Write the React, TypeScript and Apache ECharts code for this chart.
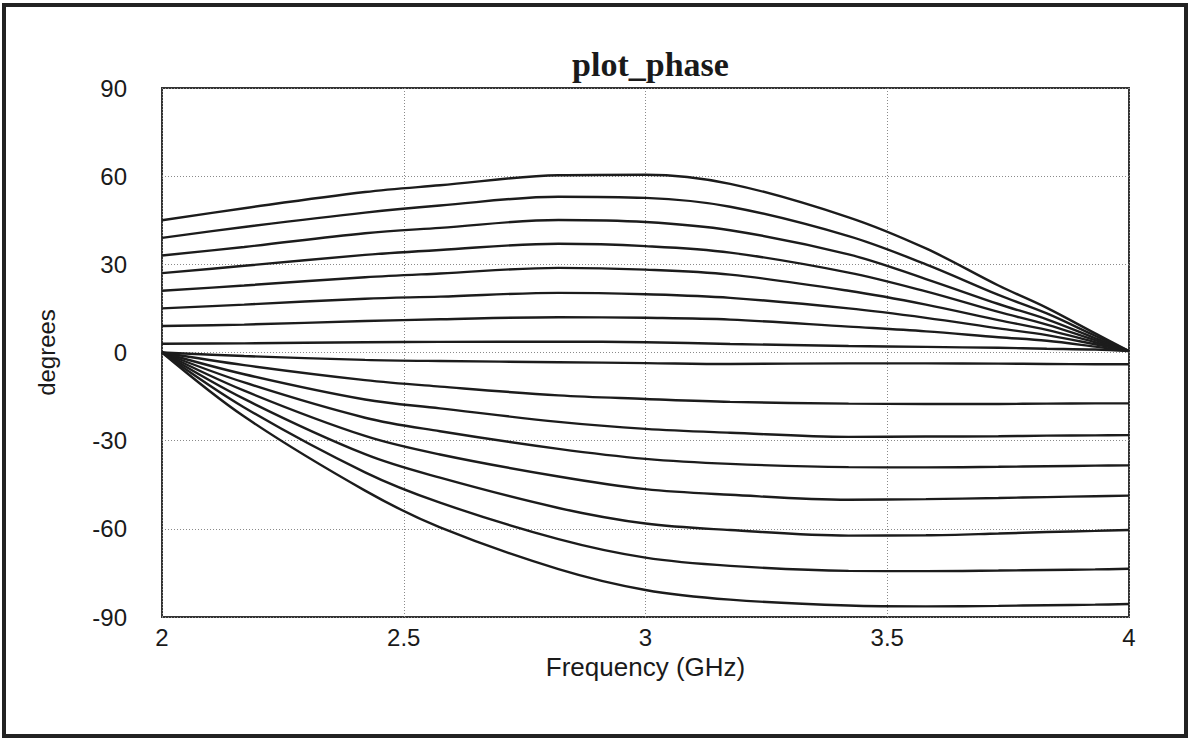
import React, { useEffect, useRef } from "react";
import * as echarts from "echarts";

// Frequency sample points (GHz)
const freq = [2.0, 2.17, 2.42, 2.575, 2.82, 3.0, 3.175, 3.42, 3.58, 3.73, 3.83, 3.93, 4.0];

// Upper family (degrees)
const upper1 = [45, 49.1, 54.6, 56.9, 60.3, 60.5, 57.4, 46.0, 35.4, 22.8, 15.2, 6.5, 0.5];
const upper2 = [39, 42.7, 47.6, 50.0, 53.0, 52.6, 49.6, 39.6, 30.0, 19.6, 13.3, 5.7, 0.5];
const upper3 = [33, 35.9, 40.6, 42.4, 45.1, 44.4, 41.6, 33.4, 25.0, 16.5, 11.3, 4.9, 0.5];
const upper4 = [27, 29.5, 33.2, 34.9, 37.0, 36.2, 34.0, 27.2, 20.8, 13.8, 9.5, 4.2, 0.5];
const upper5 = [21, 22.8, 25.6, 26.9, 28.8, 28.2, 26.5, 21.0, 16.3, 11.0, 7.7, 3.5, 0.5];
const upper6 = [15, 16.3, 18.3, 19.0, 20.3, 19.8, 18.6, 15.0, 11.8, 8.2, 5.9, 2.8, 0.5];
const upper7 = [9, 9.5, 10.7, 11.3, 12.0, 11.8, 11.2, 8.8, 7.2, 5.2, 4.0, 2.0, 0.5];
const upper8 = [3, 3.1, 3.5, 3.6, 3.7, 3.5, 2.9, 2.2, 1.9, 1.6, 1.3, 1.0, 0.5];

// Lower family (degrees)
const lower1 = [0, -1.2, -2.5, -2.9, -3.3, -3.6, -3.9, -3.7, -3.7, -3.8, -3.9, -4.0, -4.0];
const lower2 = [0, -4.3, -9.4, -11.6, -14.6, -15.8, -16.8, -17.4, -17.5, -17.5, -17.4, -17.3, -17.3];
const lower3 = [0, -7.4, -16.0, -19.0, -23.6, -26.0, -27.3, -28.7, -28.6, -28.5, -28.3, -28.2, -28.1];
const lower4 = [0, -10.2, -22.2, -26.8, -32.8, -36.2, -37.9, -39.0, -39.1, -38.9, -38.7, -38.5, -38.4];
const lower5 = [0, -13.0, -28.4, -34.7, -42.2, -46.5, -48.4, -50.1, -49.9, -49.5, -49.2, -48.9, -48.7];
const lower6 = [0, -15.8, -34.6, -42.6, -52.9, -58.2, -60.4, -62.3, -62.2, -61.6, -61.1, -60.7, -60.4];
const lower7 = [0, -18.7, -40.8, -51.1, -63.5, -69.8, -72.6, -74.3, -74.4, -74.2, -74.0, -73.8, -73.6];
const lower8 = [0, -21.8, -47.0, -59.5, -73.7, -80.8, -84.1, -86.1, -86.4, -86.2, -86.0, -85.8, -85.6];

const curves = [
  upper1, upper2, upper3, upper4, upper5, upper6, upper7, upper8,
  lower1, lower2, lower3, lower4, lower5, lower6, lower7, lower8,
];

const yTicks = [-90, -60, -30, 0, 30, 60, 90];

export default function App() {
  const ref = useRef<HTMLDivElement>(null);

  useEffect(() => {
    document.body.style.margin = "0";
    const chart = echarts.init(ref.current as HTMLDivElement, null, { renderer: "svg" });
    const textColor = "#1a1a1a";
    chart.setOption({
      animation: false,
      backgroundColor: "#ffffff",
      title: {
        text: "plot_phase",
        left: 645.5,
        textAlign: "center",
        top: 42,
        textStyle: {
          fontFamily: "Liberation Serif",
          fontWeight: "bold",
          fontSize: 34,
          color: textColor,
        },
      },
      graphic: [
        {
          type: "rect",
          shape: { x: 4, y: 5, width: 1182, height: 731 },
          style: { fill: "none", stroke: "#222", lineWidth: 4 },
          silent: true,
        },
      ],
      grid: {
        left: 162,
        right: 61,
        top: 88,
        bottom: 123,
        show: true,
        borderColor: "#333",
        borderWidth: 2,
        backgroundColor: "transparent",
      },
      xAxis: {
        type: "value",
        min: 2,
        max: 4,
        interval: 0.5,
        name: "Frequency (GHz)",
        nameLocation: "middle",
        nameGap: 37,
        nameTextStyle: { fontFamily: "Liberation Sans", fontSize: 26, color: textColor },
        axisLine: { show: false },
        axisTick: { show: false },
        axisLabel: { fontFamily: "Liberation Sans", fontSize: 24, color: textColor, margin: 8 },
        splitLine: { show: true, lineStyle: { type: [1, 2], color: "#8a8a8a", width: 1 } },
      },
      yAxis: {
        type: "value",
        min: yTicks[0],
        max: yTicks[yTicks.length - 1],
        interval: 30,
        name: "degrees",
        nameLocation: "middle",
        nameGap: 104,
        nameTextStyle: { fontFamily: "Liberation Sans", fontSize: 24, color: textColor },
        axisLine: { show: false },
        axisTick: { show: false },
        axisLabel: { fontFamily: "Liberation Sans", fontSize: 24, color: textColor, margin: 35 },
        splitLine: { show: true, lineStyle: { type: [1, 2], color: "#8a8a8a", width: 1 } },
      },
      series: curves.map((vals, i) => ({
        name: (i < 8 ? "upper" : "lower") + ((i % 8) + 1),
        type: "line",
        data: freq.map((f, j) => [f, vals[j]]),
        smooth: 0.35,
        showSymbol: false,
        symbol: "none",
        clip: true,
        lineStyle: { color: "#1c1c1c", width: 2.4 },
      })),
    });
    return () => {
      chart.dispose();
    };
  }, []);

  return <div ref={ref} style={{ width: 1190, height: 740 }} />;
}
